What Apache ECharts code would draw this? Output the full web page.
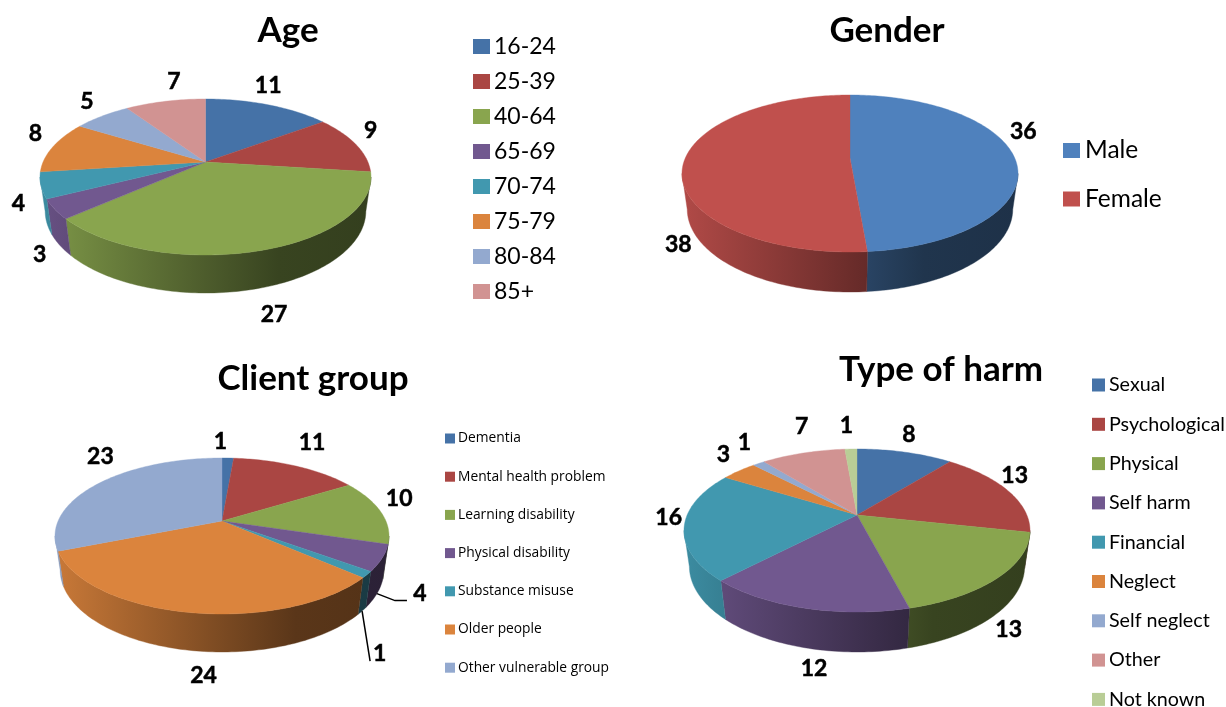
<!DOCTYPE html>
<html><head><meta charset="utf-8">
<style>html,body{margin:0;padding:0;background:#fff}#c{width:1226px;height:707px}</style>
<script src="https://cdn.jsdelivr.net/npm/echarts@6/dist/echarts.min.js"></script>
</head><body><div id="c"></div>
<script>
const ageNames = ['16-24','25-39','40-64','65-69','70-74','75-79','80-84','85+'];
const ageValues = [11,9,27,3,4,8,5,7];
const genderNames = ['Male','Female'];
const genderValues = [36,38];
const clientNames = ['Dementia','Mental health problem','Learning disability','Physical disability','Substance misuse','Older people','Other vulnerable group'];
const clientValues = [1,11,10,4,1,24,23];
const harmNames = ['Sexual','Psychological','Physical','Self harm','Financial','Neglect','Self neglect','Other','Not known'];
const harmValues = [8,13,13,12,16,3,1,7,1];

const palette = ['#4572a7','#aa4643','#89a54e','#71588f','#4198af','#db843d','#93a9cf','#d19392','#b9cd96'];
const genderPalette = ['#4f81bd','#c0504d'];

const pies = [
  {names:ageNames, values:ageValues, colors:palette, cx:205.5, apexY:162, back:63, front:93, half:165.5, depth:38,
   nudge:[[-5,-14],[1,-12],[3,11],[2,2],[-5,-20],[-3,-12],[-6,-11],[12,-15]]},
  {names:genderNames, values:genderValues, colors:genderPalette, cx:850, apexY:158, back:63, front:94, half:168, depth:40,
   nudge:[[-6,-23],[11,83]]},
  {names:clientNames, values:clientValues, colors:palette, cx:222, apexY:521, back:63, front:93, half:167, depth:38,
   nudge:[[-8,-11],[10,-19],[3,-12],[20,-6],[-4,34],[20,9],[12,-23]],
   leaders:{3:[[18,7],[30,7]],4:[[8,50]]}},
  {names:harmNames, values:harmValues, colors:palette, cx:857, apexY:515, back:66, front:97, half:173, depth:40,
   nudge:[[0,-12],[-7,-13],[-6,3],[16,4],[2,-9],[-5,-12],[-6,-16],[3,-21],[-4,-18]]}
];

const FONT = 'Lato';
const TAU = Math.PI*2;
const BOTTOM_SCALE = 0.97;

function shade(hex, f){
  const n = parseInt(hex.slice(1),16);
  const c = [(n>>16)&255,(n>>8)&255,n&255].map(v=>Math.round(v*f));
  return 'rgb('+c.join(',')+')';
}
function geometry(p){
  const k = (p.front-p.back)/(p.front+p.back);
  const b = p.back*(1+k);
  const a = p.half*Math.sqrt(1-k*k);
  const rb = BOTTOM_SCALE;
  const d = (p.depth+p.front-rb*b/(1-k*rb))*(1-k*rb);
  return {k,b,a,rb,d,
    at(phi,r,h){
      const u=r*Math.sin(phi), v=-r*Math.cos(phi), w=1-k*v;
      return [p.cx+a*u/w, p.apexY+b*v/w+(h||0)/w];
    }};
}
function arc(g,s,e,r,h){
  const n=Math.max(2,Math.ceil((e-s)/0.02)), pts=[];
  for(let i=0;i<=n;i++) pts.push(g.at(s+(e-s)*i/n,r,h));
  return pts;
}
function sliceItem(p,g,i,s,e){
  const color=p.colors[i], kids=[];
  const alpha=Math.acos(g.k);
  const ws=Math.max(s,Math.PI-alpha), we=Math.min(e,Math.PI+alpha);
  if(we>ws){
    const poly=arc(g,ws,we,1,0).concat(arc(g,ws,we,g.rb,g.d).reverse());
    const grad=new echarts.graphic.LinearGradient(p.cx-p.half,0,p.cx+p.half,0,[
      {offset:0,color:shade(color,0.92)},
      {offset:0.5,color:shade(color,0.56)},
      {offset:0.72,color:shade(color,0.41)},
      {offset:1,color:shade(color,0.38)}],true);
    kids.push({type:'polygon',z2:1,shape:{points:poly},style:{fill:grad,stroke:grad,lineWidth:0.4}});
  }
  const top=[[p.cx,p.apexY]].concat(arc(g,s,e,1,0));
  kids.push({type:'polygon',z2:5,shape:{points:top},style:{fill:color,stroke:color,lineWidth:0.4}});
  const mid=(s+e)/2, front=-Math.cos(mid)>g.k;
  const anchor=g.at(mid,1.1,front?g.d:0);
  const nd=p.nudge[i];
  const lx=anchor[0]+nd[0], ly=anchor[1]+nd[1];
  kids.push({type:'text',z2:10,style:{text:String(p.values[i]),x:lx,y:ly,align:'center',verticalAlign:'middle',
    font:'bold 23px '+FONT,fill:'#000',stroke:'#000',lineWidth:0.5}});
  const lead=p.leaders&&p.leaders[i];
  if(lead){
    const st=g.at(mid,g.rb,g.d);
    const pts=[st].concat(lead.map(o=>[st[0]+o[0],st[1]+o[1]]));
    kids.push({type:'polyline',z2:6,shape:{points:pts},style:{stroke:'#000',lineWidth:1.5,fill:'none'}});
  }
  return {type:'group',children:kids};
}

const series=[];
pies.forEach((p,pi)=>{
  const g=geometry(p), total=p.values.reduce((x,y)=>x+y,0);
  let acc=0;
  p.values.forEach((v,i)=>{
    const s=acc/total*TAU; acc+=v; const e=acc/total*TAU;
    series.push({type:'custom',name:p.names[i],coordinateSystem:'none',silent:true,animation:false,
      itemStyle:{color:p.colors[i]},data:[[v]],renderItem:()=>sliceItem(p,g,i,s,e)});
  });
});

const titleStyle={fontFamily:FONT,fontWeight:'bold',fontSize:35,color:'#000'};
function title(text,x,y){return {text,left:x,top:y,textAlign:'center',textVerticalAlign:'middle',textStyle:titleStyle,padding:0};}
function legend(names,left,top,iconW,iconH,gap,fontFamily,fontSize,textGap,boxH){
  return {data:names,orient:'vertical',left,top,height:boxH,itemWidth:iconW,itemHeight:iconH,itemGap:gap,padding:0,icon:'rect',
    selectedMode:false,inactiveColor:'#000',
    textStyle:{fontFamily,fontSize,color:'#000',lineHeight:iconH,padding:[0,0,0,textGap-5]}};
}
const chart=echarts.init(document.getElementById('c'),null,{renderer:'canvas'});
chart.setOption({
  animation:false,
  backgroundColor:'#fff',
  title:[title('Age',288,31),title('Gender',887,31),title('Client group',313,379),title('Type of harm',941,370)],
  legend:[
    legend(ageNames,473,35,17,15,12,FONT,23,4,300),
    legend(genderNames,1063,138,17,15,23.5,FONT,24.5,5,100),
    legend(clientNames,445,431.5,10,10,24.2,'Open Sans',13.8,3,260),
    legend(harmNames,1092,375,13,13,19.3,FONT,19.7,4,400)
  ],
  series
});
</script></body></html>
